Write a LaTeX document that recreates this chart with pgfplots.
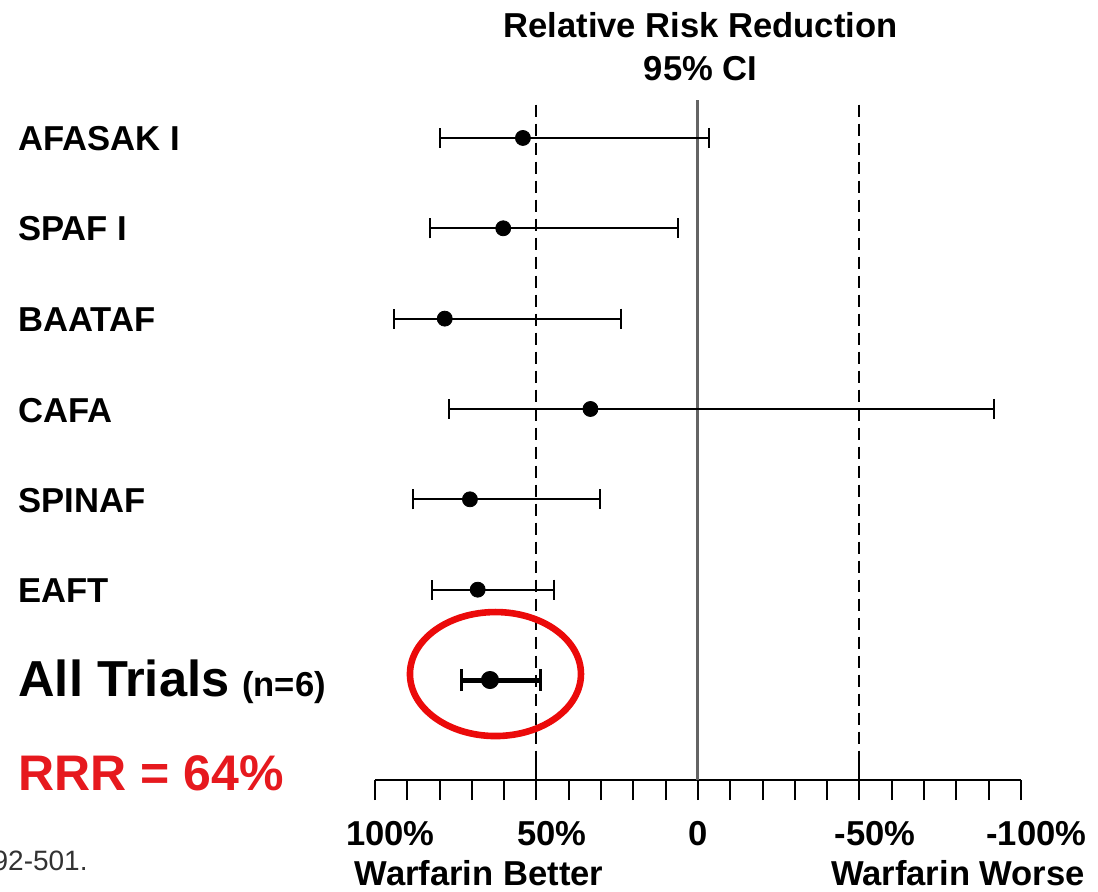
\documentclass[border=0pt]{standalone}
\usepackage{fontspec}
\setmainfont{Liberation Sans}
\usepackage{pgfplots}
\pgfplotsset{compat=1.18}
\usepackage{pgfplotstable}
\definecolor{rrrred}{RGB}{230,25,30}
\definecolor{ringred}{RGB}{235,10,10}
\definecolor{zerogray}{RGB}{100,100,100}

% y = row, pt = relative risk reduction (%), ep/em = distance to CI ends
\pgfplotstableread{
y pt ep em
7 54.2 25.8 57.6
6 60.3 22.7 54.1
5 78.4 15.6 54.7
4 33.3 43.9 124.8
3 70.6 17.5 40.4
2 68.2 14.0 23.5
}\trials
\pgfplotstableread{
y pt ep em
1 64.4 8.8 15.7
}\alltrials

\begin{document}
\begin{tikzpicture}[x=1pt,y=1pt]
\useasboundingbox (0,0) rectangle (549,-445.5);
\begin{axis}[
  at={(187.5pt,-390pt)}, anchor=south west,
  scale only axis, width=323pt, height=340pt,
  xmin=-100, xmax=100, x dir=reverse,
  ymin=-0.107, ymax=7.42,
  axis x line=bottom, x axis line style={-, line width=1.2pt, black},
  axis y line=none,
  xtick={-100,-50,0,50,100}, xticklabels={},
  minor xtick={-90,-80,-70,-60,-40,-30,-20,-10,10,20,30,40,60,70,80,90},
  tick align=outside, major tick length=10pt, minor tick length=10pt,
  tick style={black, line width=1pt},
  minor tick style={black, line width=1pt},
  clip=false,
]
\draw[zerogray, line width=1.5pt] (axis cs:0,7.42) -- (axis cs:0,-0.107);
\draw[black, line width=1pt, dash pattern=on 6pt off 3.5pt] (axis cs:50,7.37) -- (axis cs:50,-0.107);
\draw[black, line width=1pt, dash pattern=on 6pt off 3.5pt] (axis cs:-50,7.37) -- (axis cs:-50,-0.107);
\draw[black, line width=1pt] (axis cs:50,-0.107) -- ([yshift=9.5pt]axis cs:50,-0.107);
\draw[black, line width=1pt] (axis cs:-50,-0.107) -- ([yshift=9.5pt]axis cs:-50,-0.107);

\addplot[black, only marks, mark=*, mark size=3.75pt,
  error bars/.cd, x dir=both, x explicit, error mark=|,
  error bar style={line width=1pt, black},
  error mark options={black, line width=1pt, mark size=5pt}]
  table[x=pt, y=y, x error plus=ep, x error minus=em] {\trials};
\addplot[black, only marks, mark=*, mark size=4.3pt,
  error bars/.cd, x dir=both, x explicit, error mark=|,
  error bar style={line width=2.5pt, black},
  error mark options={black, line width=1.6pt, mark size=5.5pt}]
  table[x=pt, y=y, x error plus=ep, x error minus=em] {\alltrials};

\draw[ringred, line width=3.3pt] (axis cs:62.7,1.066) ellipse [x radius=42.75pt, y radius=31pt];

\node[anchor=base, font=\bfseries\fontsize{17.3}{20}\selectfont] at (axis cs:100,-0.107) [yshift=-32.5pt] {100\rlap{\%}};
\node[anchor=base, font=\bfseries\fontsize{17.3}{20}\selectfont] at (axis cs:50,-0.107) [yshift=-32.5pt] {50\rlap{\%}};
\node[anchor=base, font=\bfseries\fontsize{17.3}{20}\selectfont] at (axis cs:0,-0.107) [yshift=-32.5pt] {0};
\node[anchor=base, font=\bfseries\fontsize{17.3}{20}\selectfont] at (axis cs:-50,-0.107) [yshift=-32.5pt] {-50\rlap{\%}};
\node[anchor=base, font=\bfseries\fontsize{17.3}{20}\selectfont] at (axis cs:-100,-0.107) [yshift=-32.5pt] {-100\rlap{\%}};
\end{axis}

\begin{scope}[font=\bfseries\fontsize{17.3}{20}\selectfont]
\node[anchor=base] at (350.25,-18.5) {Relative Risk Reduction};
\node[anchor=base] at (350.25,-40) {95\% CI};
\node[anchor=base west, inner sep=0pt] at (9,-75) {AFASAK I};
\node[anchor=base west, inner sep=0pt] at (9,-120) {SPAF I};
\node[anchor=base west, inner sep=0pt] at (9,-165.5) {BAATAF};
\node[anchor=base west, inner sep=0pt] at (9,-211) {CAFA};
\node[anchor=base west, inner sep=0pt] at (9,-256) {SPINAF};
\node[anchor=base west, inner sep=0pt] at (9,-301) {EAFT};
\node[anchor=base west, inner sep=0pt] at (9,-348) {{\fontsize{25.3}{30}\selectfont All Trials}\hspace{6.5pt}(n=6)};
\node[anchor=base west, inner sep=0pt, text=rrrred] at (9,-395) {\fontsize{25}{30}\selectfont RRR = 64\%};
\node[anchor=base] at (239.5,-442.5) {Warfarin Better};
\node[anchor=base] at (479,-442.5) {Warfarin Worse};
\end{scope}
\node[anchor=base east, inner sep=0pt, text={rgb,255:red,50;green,50;blue,50}, font=\fontsize{14}{16}\selectfont] at (44,-435) {492-501.};
\end{tikzpicture}
\end{document}
